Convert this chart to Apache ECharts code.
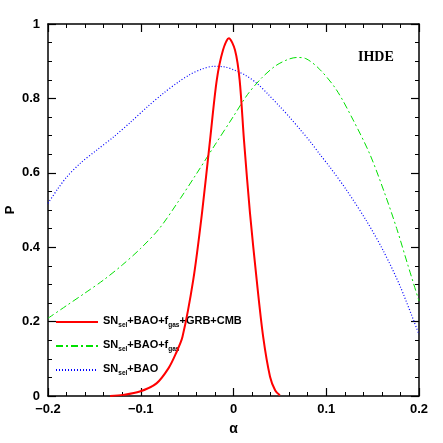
<!DOCTYPE html>
<html><head><meta charset="utf-8">
<script src="https://cdn.jsdelivr.net/npm/echarts@6/dist/echarts.min.js"></script>
<style>html,body{margin:0;padding:0;background:#fff}#c{width:443px;height:443px}</style>
</head><body><div id="c"></div>
<script>
const redX = [-0.133,-0.119,-0.101,-0.083,-0.07,-0.062,-0.055,-0.0434,-0.034,-0.0253,-0.018,-0.0113,-0.005,0.0016,0.0066,0.0113,0.0178,0.025,0.032,0.0394,0.045,0.050];
const redY = [0,0.003,0.012,0.034,0.075,0.115,0.159,0.312,0.491,0.688,0.85,0.930,0.962,0.930,0.85,0.688,0.491,0.312,0.159,0.052,0.015,0.002];
const greenX = [-0.2,-0.18,-0.16,-0.14,-0.12,-0.10,-0.08,-0.06,-0.04,-0.02,0,0.015,0.03,0.045,0.058,0.068,0.078,0.093,0.111,0.129,0.147,0.163,0.176,0.188,0.2];
const greenY = [0.209,0.243,0.277,0.312,0.352,0.397,0.450,0.521,0.597,0.675,0.752,0.81,0.854,0.887,0.904,0.910,0.907,0.878,0.823,0.742,0.650,0.545,0.450,0.352,0.255];
const blueX = [-0.2,-0.19,-0.18,-0.165,-0.147,-0.129,-0.111,-0.093,-0.075,-0.06,-0.047,-0.035,-0.022,-0.01,0,0.013,0.025,0.037,0.05,0.061,0.072,0.083,0.093,0.104,0.122,0.144,0.162,0.18,0.2];
const blueY = [0.518,0.555,0.588,0.626,0.662,0.697,0.736,0.777,0.815,0.843,0.864,0.878,0.886,0.885,0.877,0.862,0.841,0.812,0.778,0.748,0.716,0.683,0.65,0.615,0.553,0.468,0.388,0.293,0.165];
const seriesNames = ['SN_sel+BAO+f_gas+GRB+CMB','SN_sel+BAO+f_gas','SN_sel+BAO'];
const xTicks = {min:-0.2, max:0.2, interval:0.1};
const yTicks = {min:0, max:1, interval:0.2};

const pair = (xs, ys) => xs.map((x,i)=>[x, ys[i]]);
const FONT = '"Liberation Sans", Arial, sans-serif';
const fmt = v => (Math.abs(v) < 1e-9 ? '0' : String(+v.toFixed(2)).replace('-', '\u2212'));
const axisCommon = {
  axisLine:{show:true, onZero:false, lineStyle:{color:'#000', width:1.5}},
  axisTick:{show:true, inside:true, length:8, lineStyle:{color:'#000', width:1.2}},
  splitLine:{show:false}
};
const minorX = {minorTick:{show:true, splitNumber:5, length:4, lineStyle:{color:'#000', width:1}}};
const minorY = {minorTick:{show:true, splitNumber:4, length:4, lineStyle:{color:'#000', width:1}}};
function richName(s){
  return s.split('+').map(p=>{
    const m = p.split('_');
    return m.length>1 ? '{n|'+m[0]+'}{s|'+m[1]+'}' : '{n|'+p+'}';
  }).join('{n|+}');
}
const chart = echarts.init(document.getElementById('c'), null, {renderer:'canvas'});
chart.setOption({
  animation:false,
  grid:{left:48, right:24, top:24, bottom:47, containLabel:false, outerBoundsMode:'none'},
  xAxis:[
    Object.assign({type:'value', position:'bottom', min:xTicks.min, max:xTicks.max, interval:xTicks.interval,
      axisLabel:{formatter:fmt, color:'#000', fontFamily:FONT, fontWeight:'bold', fontSize:13, margin:7},
      name:'\u03b1', nameLocation:'middle', nameGap:26, nameMoveOverlap:false,
      nameTextStyle:{color:'#000', fontFamily:FONT, fontWeight:'bold', fontSize:14}}, axisCommon, minorX),
    Object.assign({type:'value', position:'top', min:xTicks.min, max:xTicks.max, interval:xTicks.interval,
      axisLabel:{show:false}}, axisCommon, minorX)
  ],
  yAxis:[
    Object.assign({type:'value', position:'left', min:yTicks.min, max:yTicks.max, interval:yTicks.interval,
      axisLabel:{formatter:fmt, color:'#000', fontFamily:FONT, fontWeight:'bold', fontSize:13, margin:8},
      name:'P', nameLocation:'middle', nameGap:31, nameRotate:90, nameMoveOverlap:false,
      nameTextStyle:{color:'#000', fontFamily:FONT, fontWeight:'bold', fontSize:13}}, axisCommon, minorY),
    Object.assign({type:'value', position:'right', min:yTicks.min, max:yTicks.max, interval:yTicks.interval,
      axisLabel:{show:false}}, axisCommon, minorY)
  ],
  legend:{
    orient:'vertical', left:55, top:315, padding:0, itemWidth:42, itemHeight:10, itemGap:10,
    data:seriesNames,
    itemStyle:{opacity:0},
    formatter: name => richName(name),
    textStyle:{
      color:'#000', fontFamily:FONT, fontWeight:'bold', fontSize:11,
      rich:{
        n:{fontFamily:FONT, fontWeight:'bold', fontSize:11, color:'#000', lineHeight:14, verticalAlign:'top'},
        s:{fontFamily:FONT, fontWeight:'bold', fontSize:6.5, color:'#000', lineHeight:14, verticalAlign:'bottom', padding:[5,0,0,0]}
      }
    }
  },
  graphic:[{type:'text', left:358, top:50, style:{text:'IHDE', fill:'#000', font:'bold 14px "Liberation Serif", serif'}}],
  series:[
    {name:seriesNames[0], type:'line', data:pair(redX, redY), smooth:0.3, showSymbol:false, symbol:'none',
      lineStyle:{color:'#ff0000', width:2}, itemStyle:{color:'#ff0000'}, z:5},
    {name:seriesNames[1], type:'line', data:pair(greenX, greenY), smooth:0.3, showSymbol:false, symbol:'none',
      lineStyle:{color:'#00e000', width:1, type:[7,3,2,3]}, itemStyle:{color:'#00e000'}, z:4},
    {name:seriesNames[2], type:'line', data:pair(blueX, blueY), smooth:0.3, showSymbol:false, symbol:'none',
      lineStyle:{color:'#0000ff', width:1.2, type:[1,2]}, itemStyle:{color:'#0000ff'}, z:3}
  ]
});
</script></body></html>
